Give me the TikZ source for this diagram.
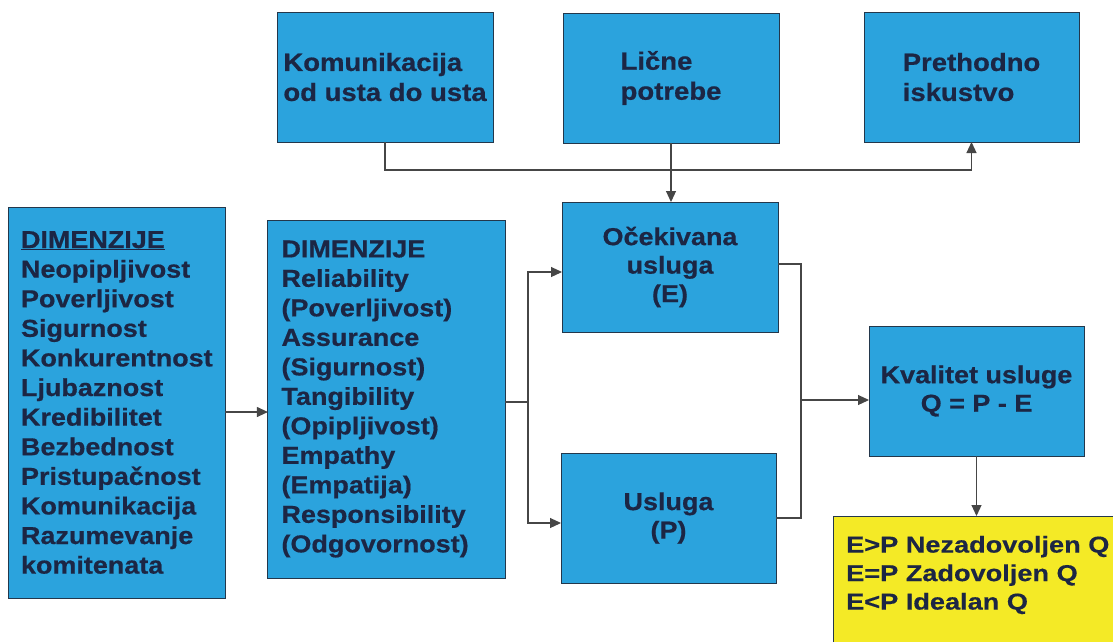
\documentclass[tikz,border=0pt]{standalone}
\usepackage{fontspec}
\setmainfont{Liberation Sans}[FakeStretch=1.1, BoldFeatures={FakeBold=0.6}]
\newfontfamily\yfont{Liberation Sans}[FakeStretch=1.18, BoldFeatures={FakeBold=0.4}]
\usetikzlibrary{arrows.meta}
\definecolor{boxblue}{RGB}{43,163,221}
\definecolor{boxedge}{RGB}{35,55,75}
\definecolor{txt}{RGB}{28,38,68}
\definecolor{yfill}{RGB}{244,234,38}
\definecolor{lin}{RGB}{70,70,70}
\begin{document}
\begin{tikzpicture}[x=1pt,y=-1pt,
  bbox/.style={draw=boxedge, line width=1pt, fill=boxblue, text=txt, inner sep=0pt, outer sep=0pt},
  topbox/.style={bbox, minimum width=216pt, minimum height=130pt, align=left, font=\bfseries\fontsize{25}{30}\selectfont},
  midbox/.style={bbox, minimum width=216pt, minimum height=130pt, align=center, font=\bfseries\fontsize{24.5}{28.5}\selectfont},
  conn/.style={draw=lin, line width=1.1pt},
  arrowed/.style={conn, -{Triangle[length=11pt,width=10pt]}}
]
\fill[white] (0,0) rectangle (1113,641);
\useasboundingbox (0,0) rectangle (1113,641);

% top row
\node[topbox] (kom) at (385,77) {Komunikacija\\od usta do usta};
\node[topbox] (lic) at (671,78) {Lične\\potrebe};
\node[topbox, minimum width=215pt] (pre) at (971.5,77) {Prethodno\\iskustvo};

% dimension boxes
\node[bbox, minimum height=391pt, text width=191pt, inner xsep=13pt, align=left,
      font=\bfseries\fontsize{24.5}{29.6}\selectfont] (dim1) at (116.5,402.5)
  {\underline{DIMENZIJE}\\Neopipljivost\\Poverljivost\\Sigurnost\\Konkurentnost\\Ljubaznost\\Kredibilitet\\Bezbednost\\Pristupačnost\\Komunikacija\\Razumevanje\\komitenata};
\node[bbox, minimum height=358pt, text width=210pt, inner xsep=13.6pt, align=left,
      font=\bfseries\fontsize{24.5}{29.5}\selectfont] (dim2) at (386.5,399)
  {DIMENZIJE\\Reliability\\(Poverljivost)\\Assurance\\(Sigurnost)\\Tangibility\\(Opipljivost)\\Empathy\\(Empatija)\\Responsibility\\(Odgovornost)};

% middle
\node[midbox] (oce) at (670,267) {Očekivana\\usluga\\(E)};
\node[midbox, minimum width=215pt] (usl) at (668.5,518) {Usluga\\(P)};
\node[midbox, minimum width=215pt] (kva) at (976.5,391) {Kvalitet usluge\\Q = P - E};

% yellow result box
\node[draw=boxedge, line width=1pt, fill=yfill, anchor=north west, minimum width=290pt, minimum height=140pt, inner sep=0pt] (yel) at (833,516) {};
\node[anchor=west, align=left, inner sep=0pt, text=txt, font=\yfont\bfseries\fontsize{23}{28.5}\selectfont] (yeltext) at (846,575)
  {E>P Nezadovoljen Q\\E=P Zadovoljen Q\\E<P Idealan Q};

% connectors
\draw[arrowed] (kom.south) -- ++(0,28) -| (pre.south);
\draw[arrowed] (lic.south) -- (lic.south |- oce.north);
\draw[arrowed] ([yshift=-9.5pt]dim1.east) -- ([yshift=-9.5pt]dim1.east -| dim2.west);
\coordinate (j1) at (528,402);
\draw[conn] (dim2.east |- j1) -- (j1);
\draw[arrowed] (j1) |- ([yshift=-5pt]oce.west);
\draw[arrowed] (j1) |- ([yshift=-5pt]usl.west);
\coordinate (j2) at (801,400);
\draw[conn] ([yshift=3pt]oce.east) -| (j2);
\draw[conn] (usl.east) -| (j2);
\draw[arrowed] (j2) -- (j2 -| kva.west);
\draw[arrowed] (kva.south) -- (kva.south |- yel.north);
\end{tikzpicture}
\end{document}
